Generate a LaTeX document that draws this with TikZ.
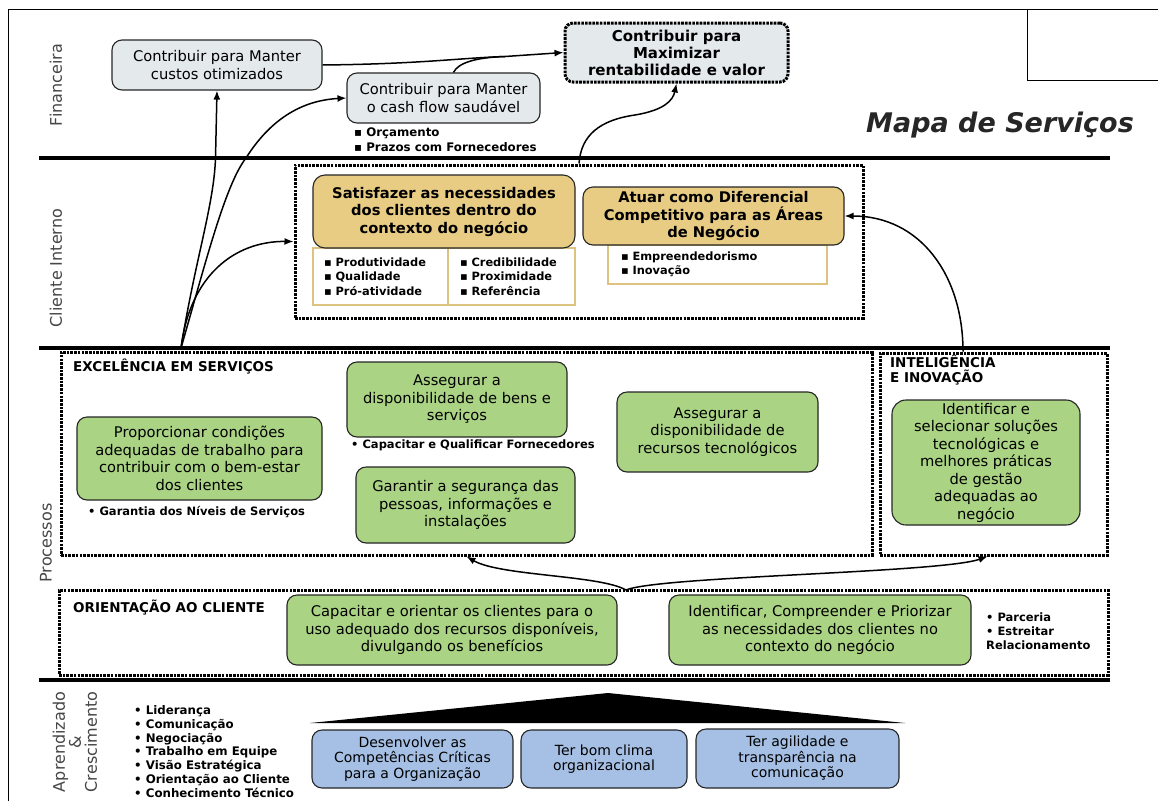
\documentclass[tikz,border=0pt]{standalone}
\usepackage{fontspec}
\setmainfont{DejaVu Sans}
\usetikzlibrary{arrows.meta,calc}
\definecolor{finfill}{RGB}{228,233,236}
\definecolor{goldfill}{RGB}{232,204,132}
\definecolor{goldline}{RGB}{222,195,128}
\definecolor{greenfill}{RGB}{170,212,132}
\definecolor{bluefill}{RGB}{165,192,228}
\definecolor{labelgray}{RGB}{70,70,70}
\tikzset{
  box/.style={draw=black!85, line width=1.1pt, rounded corners=10pt, align=center, inner sep=0pt, font=\fontsize{14.7}{17.5}\selectfont},
  finbox/.style={box, fill=finfill},
  goldbox/.style={box, fill=goldfill, font=\bfseries\fontsize{14.7}{17.5}\selectfont},
  greenbox/.style={box, fill=greenfill},
  bluebox/.style={box, fill=bluefill, font=\fontsize{14}{15.5}\selectfont},
  dotbox/.style={draw=black, line width=3pt, dash pattern=on 2.6pt off 1.1pt, inner sep=0pt},
  bulbox/.style={draw=goldline, line width=1.2pt, fill=white, align=left, inner ysep=0pt, font=\bfseries\fontsize{11.4}{14.5}\selectfont},
  smallbul/.style={anchor=west, align=left, inner sep=0pt, font=\bfseries\fontsize{11.5}{14}\selectfont},
  secttitle/.style={anchor=west, inner sep=0pt, align=left, font=\bfseries\fontsize{13.5}{15}\selectfont},
  seclabel/.style={rotate=90, text=labelgray, inner sep=0pt, align=center, font=\fontsize{16}{16}\selectfont},
  sepline/.style={line width=3.2pt},
  conn/.style={line width=1.5pt, -{Latex[length=9pt,width=7pt]}},
  joinline/.style={line width=1.5pt}
}
\begin{document}
\begin{tikzpicture}[x=1pt,y=-1pt]
\useasboundingbox (0,0) rectangle (1158,801);
\fill[white] (0,0) rectangle (1158,801);

% frame
\draw[line width=1pt] (8,801) -- (8,9) -- (1158,9);
\node[draw, line width=1pt, minimum width=131pt, minimum height=71pt, inner sep=0pt] (topbox) at (1092.5,44.5) {};

% separators
\draw[sepline] (39,158) -- (1110,158);
\draw[sepline] (39,348) -- (1110,348);
\draw[sepline] (39,680) -- (1110,680);

% section labels
\node[seclabel] (lfin) at (56,85) {Financeira};
\node[seclabel] (lcli) at (56,268) {Cliente Interno};
\node[seclabel] (lproc) at (46,543) {Processos};
\node[seclabel] (lapr) at (75,742) {Aprendizado\\\&\\Crescimento};

% Financeira
\node[finbox, minimum width=210pt, minimum height=50pt] (custos) at (217,65) {Contribuir para Manter\\custos otimizados};
\node[finbox, minimum width=193pt, minimum height=50pt] (cash) at (443.5,98) {Contribuir para Manter\\o cash flow saudável};
\node[dotbox, fill=finfill, rounded corners=8pt, minimum width=223pt, minimum height=59pt, align=center, font=\bfseries\fontsize{15}{17}\selectfont] (maxim) at (676.5,52.5) {Contribuir para\\Maximizar\\rentabilidade e valor};
\node[smallbul, font=\bfseries\fontsize{11.8}{15}\selectfont] (cashbul) at (354,139.5) {▪ Orçamento\\▪ Prazos com Fornecedores};
\node[anchor=base, inner sep=0pt, font=\bfseries\itshape\fontsize{27}{30}\selectfont, text=black!85] (mapa) at (1000,132) {Mapa de Serviços};

% Cliente Interno
\node[dotbox, fill=white, minimum width=568pt, minimum height=153pt] (cli) at (579,241.5) {};
\node[bulbox, text width=113pt, inner xsep=11pt, minimum height=57pt] (bulL) at (380.5,276.5) {▪ Produtividade\\▪ Qualidade\\▪ Pró-atividade};
\node[bulbox, text width=103pt, inner xsep=12pt, minimum height=57pt] (bulR) at (511.5,276.5) {▪ Credibilidade\\▪ Proximidade\\▪ Referência};
\node[goldbox, rounded corners=12pt, minimum width=262pt, minimum height=73pt] (satisf) at (444,211.5) {Satisfazer as necessidades\\dos clientes dentro do\\contexto do negócio};
\node[bulbox, text width=193pt, inner xsep=13pt, minimum height=39pt] (atuarbul) at (717.5,264.5) {▪ Empreendedorismo\\▪ Inovação};
\node[goldbox, minimum width=261pt, minimum height=58pt] (atuar) at (713.5,216) {Atuar como Diferencial\\Competitivo para as Áreas\\de Negócio};

% Processos
\node[dotbox, minimum width=811pt, minimum height=203pt] (excel) at (466.5,453.5) {};
\node[dotbox, minimum width=227pt, minimum height=202pt] (intel) at (993.5,454) {};
\node[secttitle] (texcel) at (73,367) {EXCELÊNCIA EM SERVIÇOS};
\node[secttitle] (tintel) at (890,370.5) {INTELIGÊNCIA\\E INOVAÇÃO};
\node[greenbox, minimum width=245pt, minimum height=83pt] (propor) at (199.5,458.5) {Proporcionar condições\\adequadas de trabalho para\\contribuir com o bem-estar\\dos clientes};
\node[smallbul] (garantia) at (88,512) {• Garantia dos Níveis de Serviços};
\node[greenbox, minimum width=220pt, minimum height=75pt] (bens) at (457,399.5) {Assegurar a\\disponibilidade de bens e\\serviços};
\node[smallbul] (capac) at (351,445) {• Capacitar e Qualificar Fornecedores};
\node[greenbox, minimum width=219pt, minimum height=76pt] (garantir) at (465.5,505) {Garantir a segurança das\\pessoas, informações e\\instalações};
\node[greenbox, minimum width=201pt, minimum height=80pt] (recursos) at (717.5,432) {Assegurar a\\disponibilidade de\\recursos tecnológicos};
\node[greenbox, rounded corners=14pt, minimum width=188pt, minimum height=125pt] (ident) at (986,462.5) {Identificar e\\selecionar soluções\\tecnológicas e\\melhores práticas\\de gestão\\adequadas ao\\negócio};

% Orientacao
\node[dotbox, minimum width=1049pt, minimum height=85pt] (orient) at (583.5,632.5) {};
\node[secttitle] (torient) at (73,608) {ORIENTAÇÃO AO CLIENTE};
\node[greenbox, minimum width=330pt, minimum height=70pt] (capacitar) at (452,630) {Capacitar e orientar os clientes para o\\uso adequado dos recursos disponíveis,\\divulgando os benefícios};
\node[greenbox, minimum width=302pt, minimum height=70pt] (identif) at (820,630) {Identificar, Compreender e Priorizar\\as necessidades dos clientes no\\contexto do negócio};
\node[smallbul] (parceria) at (986,631) {• Parceria\\• Estreitar\\Relacionamento};

% Aprendizado
\node[smallbul, font=\bfseries\fontsize{11.8}{13.8}\selectfont] (aprbul) at (134,751.5) {• Liderança\\• Comunicação\\• Negociação\\• Trabalho em Equipe\\• Visão Estratégica\\• Orientação ao Cliente\\• Conhecimento Técnico};
\fill[black] (310,723) -- (608,693) -- (905,723) -- cycle;
\node[bluebox, minimum width=201pt, minimum height=58pt] (desenv) at (412.5,759) {Desenvolver as\\Competências Críticas\\para a Organização};
\node[bluebox, minimum width=166pt, minimum height=58pt] (clima) at (604,759) {Ter bom clima\\organizacional};
\node[bluebox, minimum width=203pt, minimum height=59pt] (agil) at (797.5,758.5) {Ter agilidade e\\transparência na\\comunicação};

% connectors
\coordinate (o1) at (181,348);
\coordinate (j1) at (505,56.5);
\coordinate (o4) at (626,590);
\draw[conn] (o1) .. controls (195,260) and (214,205) .. (215.5,158) -- (custos.south);
\draw[conn] (o1) .. controls (205,265) and (225,185) .. (246,158) .. controls (275,112) and (310,100) .. (cash.west);
\draw[conn] (o1) .. controls (190,275) and (235,241) .. (cli.west);
\draw[joinline] (custos.east) .. controls (420,64) and (460,58) .. (j1);
\draw[conn] (j1) -- (maxim.west);
\draw[joinline] ([xshift=10pt]cash.north) .. controls (458,63) and (475,57.5) .. (j1);
\draw[conn] (cli.north) .. controls (581,135) and (600,120) .. (635,115) .. controls (665,110) and (673,100) .. (maxim.south);
\draw[conn] ([xshift=-30.5pt]intel.north) .. controls (963,275) and (920,216) .. (atuar.east);
\draw[conn] (o4) .. controls (600,575) and (500,576) .. (excel.south);
\draw[conn] (o4) .. controls (660,576) and (940,573) .. ([xshift=-6pt]intel.south);
\end{tikzpicture}
\end{document}
